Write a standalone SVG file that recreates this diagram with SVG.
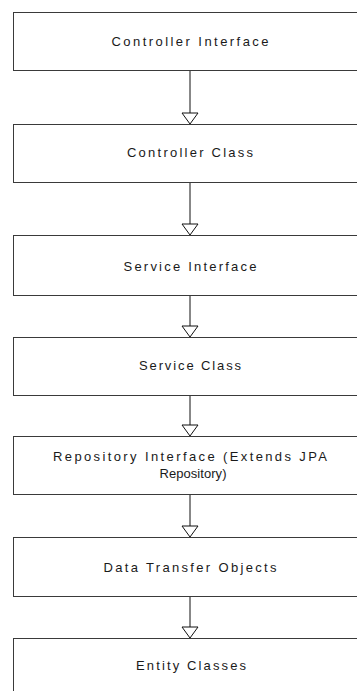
<svg xmlns="http://www.w3.org/2000/svg" width="357" height="691" viewBox="0 0 357 691">
<style>
.box{fill:#ffffff;stroke:#3a3a3a;stroke-width:1}
.lbl{font-family:"Liberation Sans",Arial,sans-serif;font-size:13px;fill:#1a1a1a;text-anchor:middle}
.edge{stroke:#111;stroke-width:1;fill:none}
.head{fill:#ffffff;stroke:#111;stroke-width:1}
</style>
<rect width="357" height="691" fill="#ffffff"/>
<g id="connectors">
<line class="edge" x1="190" y1="70.5" x2="190" y2="113"/><polygon class="head" points="182,113 198,113 190,124"/>
<line class="edge" x1="190" y1="182.5" x2="190" y2="224"/><polygon class="head" points="182,224 198,224 190,235"/>
<line class="edge" x1="190" y1="295.5" x2="190" y2="326"/><polygon class="head" points="182,326 198,326 190,337"/>
<line class="edge" x1="190" y1="395.5" x2="190" y2="425"/><polygon class="head" points="182,425 198,425 190,436"/>
<line class="edge" x1="190" y1="494.5" x2="190" y2="526"/><polygon class="head" points="182,526 198,526 190,537"/>
<line class="edge" x1="190" y1="596.5" x2="190" y2="627"/><polygon class="head" points="182,627 198,627 190,638"/>
</g>
<g id="controller-interface">
<rect class="box" x="13.5" y="12.5" width="360" height="58"/>
<text class="lbl" x="190" y="46" textLength="157" lengthAdjust="spacing">Controller Interface</text>
</g>
<g id="controller-class">
<rect class="box" x="13.5" y="124.5" width="360" height="58"/>
<text class="lbl" x="190" y="157" textLength="126" lengthAdjust="spacing">Controller Class</text>
</g>
<g id="service-interface">
<rect class="box" x="13.5" y="235.5" width="360" height="60"/>
<text class="lbl" x="190" y="271" textLength="133" lengthAdjust="spacing">Service Interface</text>
</g>
<g id="service-class">
<rect class="box" x="13.5" y="337.5" width="360" height="58"/>
<text class="lbl" x="190" y="370" textLength="102" lengthAdjust="spacing">Service Class</text>
</g>
<g id="repository-interface">
<rect class="box" x="13.5" y="436.5" width="360" height="58"/>
<text class="lbl" x="190" y="461" textLength="274" lengthAdjust="spacing">Repository Interface (Extends JPA</text>
<text class="lbl" x="193" y="478" textLength="67" lengthAdjust="spacing">Repository)</text>
</g>
<g id="data-transfer-objects">
<rect class="box" x="13.5" y="537.5" width="360" height="59"/>
<text class="lbl" x="190" y="572" textLength="173" lengthAdjust="spacing">Data Transfer Objects</text>
</g>
<g id="entity-classes">
<rect class="box" x="13.5" y="638.5" width="360" height="70"/>
<text class="lbl" x="191" y="670" textLength="110" lengthAdjust="spacing">Entity Classes</text>
</g>
</svg>
